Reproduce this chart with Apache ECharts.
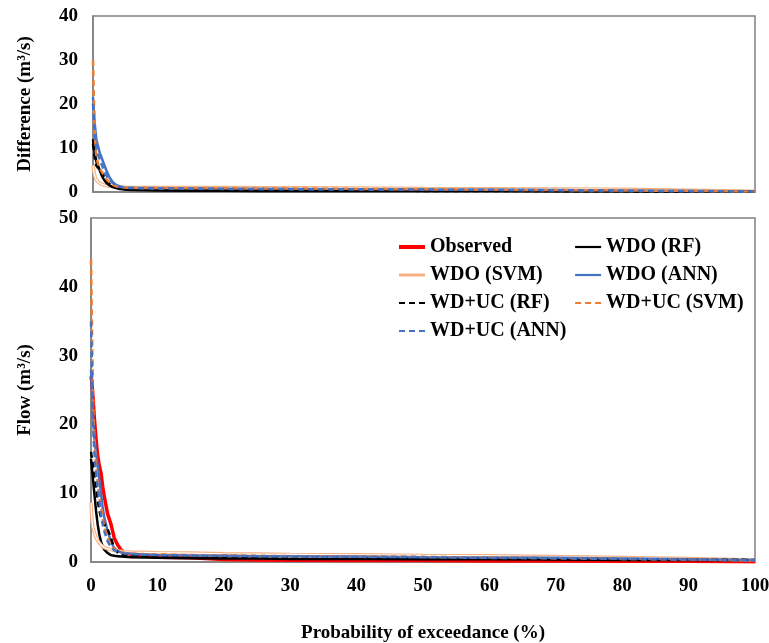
<!DOCTYPE html>
<html><head><meta charset="utf-8">
<script src="https://cdn.jsdelivr.net/npm/echarts@6/dist/echarts.min.js"></script>
<style>html,body{margin:0;padding:0;background:#fff}#c{width:769px;height:643px}</style>
</head><body><div id="c"></div>
<script>
// shared exceedance probabilities (%)
const xProb = [0, 0.15, 0.3, 0.5, 0.75, 1, 1.25, 1.5, 1.75, 2, 2.5, 3, 3.5, 4, 4.5, 5, 6, 8, 10, 15, 20, 25, 30, 40, 50, 60, 70, 80, 90, 100];
const xTicks = [0, 10, 20, 30, 40, 50, 60, 70, 80, 90, 100];

// Flow (m3/s)
const obs     = [27, 26, 24, 21, 18, 15.5, 14, 13, 11, 9.5, 7, 5.5, 3.5, 2.5, 1.8, 1.4, 1.1, 0.9, 0.7, 0.6, 0.35, 0.3, 0.25, 0.2, 0.2, 0.15, 0.15, 0.1, 0.1, 0.05];
const wdoRF   = [15, 13.5, 12, 10, 7.5, 5.5, 4, 3, 2.3, 1.8, 1.3, 1.0, 0.9, 0.85, 0.8, 0.75, 0.7, 0.65, 0.6, 0.55, 0.5, 0.5, 0.45, 0.45, 0.4, 0.4, 0.35, 0.3, 0.3, 0.25];
const wdoSVM  = [8.6, 6, 5, 4.3, 3.6, 3.1, 2.8, 2.5, 2.3, 2.1, 1.9, 1.8, 1.7, 1.6, 1.55, 1.5, 1.45, 1.4, 1.35, 1.3, 1.2, 1.15, 1.1, 1.05, 0.95, 0.9, 0.8, 0.65, 0.5, 0.3];
const wdoANN  = [28, 25, 21, 18, 16, 14, 12, 10, 8, 6.5, 4.5, 3, 2, 1.6, 1.4, 1.3, 1.2, 1.1, 1.0, 0.95, 0.9, 0.85, 0.85, 0.8, 0.7, 0.65, 0.6, 0.5, 0.4, 0.3];
const wducRF  = [16, 15, 14, 12.5, 11, 9, 7.5, 6.5, 6, 5.5, 4.8, 3.5, 2, 1.4, 1.1, 0.95, 0.85, 0.8, 0.75, 0.7, 0.65, 0.6, 0.6, 0.55, 0.5, 0.5, 0.45, 0.4, 0.35, 0.3];
const wducSVM = [44, 34, 24, 18, 14, 11.5, 9.5, 8, 6.5, 5, 3.5, 2.5, 1.9, 1.6, 1.45, 1.35, 1.25, 1.15, 1.1, 1.0, 0.95, 0.9, 0.85, 0.8, 0.75, 0.65, 0.55, 0.45, 0.35, 0.25];
const wducANN = [35, 28, 20, 16, 13, 11, 9, 7, 5.5, 4.5, 3, 2.2, 1.7, 1.5, 1.35, 1.25, 1.15, 1.05, 1.0, 0.95, 0.9, 0.85, 0.8, 0.75, 0.7, 0.6, 0.55, 0.45, 0.35, 0.25];

// Difference (m3/s)
const dWdoRF   = [12, 10, 8.5, 7, 6, 5, 4, 3.2, 2.6, 2.1, 1.5, 1.1, 0.9, 0.7, 0.6, 0.5, 0.45, 0.4, 0.35, 0.3, 0.3, 0.25, 0.25, 0.2, 0.2, 0.2, 0.15, 0.15, 0.1, 0.05];
const dWdoSVM  = [6, 4.5, 3.5, 2.8, 2.3, 2.0, 1.8, 1.6, 1.5, 1.4, 1.3, 1.2, 1.15, 1.1, 1.1, 1.05, 1.05, 1.0, 1.0, 1.0, 1.0, 0.95, 0.95, 0.9, 0.8, 0.75, 0.7, 0.6, 0.4, 0.15];
const dWdoANN  = [21.6, 18, 15, 12, 10.5, 9, 8, 7, 6, 5, 3.3, 2.2, 1.6, 1.3, 1.1, 1.0, 0.95, 0.9, 0.85, 0.8, 0.75, 0.7, 0.7, 0.65, 0.55, 0.5, 0.45, 0.35, 0.25, 0.1];
const dWducRF  = [11, 9, 7.5, 6, 5.5, 5, 4.5, 4, 3.2, 2.5, 1.8, 1.3, 1.0, 0.8, 0.7, 0.6, 0.55, 0.5, 0.45, 0.4, 0.35, 0.35, 0.3, 0.3, 0.25, 0.2, 0.2, 0.15, 0.1, 0.05];
const dWducSVM = [30, 20, 12, 8, 6.5, 5.5, 4.8, 4.2, 3.6, 3.0, 2.2, 1.6, 1.3, 1.15, 1.05, 1.0, 0.95, 0.9, 0.9, 0.85, 0.85, 0.8, 0.8, 0.7, 0.6, 0.5, 0.45, 0.35, 0.25, 0.1];
const dWducANN = [20, 16, 12, 10, 8.5, 7.5, 6.5, 5.5, 4.5, 3.8, 2.8, 2.0, 1.5, 1.2, 1.05, 0.95, 0.9, 0.85, 0.8, 0.75, 0.7, 0.7, 0.65, 0.6, 0.55, 0.5, 0.4, 0.3, 0.2, 0.1];

const names = ['Observed','WDO (RF)','WDO (SVM)','WDO (ANN)','WD+UC (RF)','WD+UC (SVM)','WD+UC (ANN)'];

const pair = arr => xProb.map((x, i) => [x, arr[i]]);
const FONT = '"Liberation Serif", "Times New Roman", serif';
const AX = '#808080';

function mk(name, arr, color, width, dashed, gi) {
  return {
    name: name, type: 'line', xAxisIndex: gi, yAxisIndex: gi,
    data: pair(arr), symbol: 'none', silent: true, animation: false,
    lineStyle: { color: color, width: width, type: dashed ? [6, 4] : 'solid' },
    itemStyle: { color: color }
  };
}

const series = [
  // top: differences
  mk('d1', dWdoSVM, '#F4B183', 3.5, false, 0),
  mk('d1w', dWdoSVM, '#ffffff', 1.2, false, 0),
  mk('d2', dWdoRF, '#000000', 2.5, false, 0),
  mk('d3', dWdoANN, '#4472C4', 2.5, false, 0),
  mk('d4', dWducRF, '#000000', 2.5, true, 0),
  mk('d5', dWducSVM, '#ED7D31', 2.5, true, 0),
  mk('d6', dWducANN, '#4472C4', 2.5, true, 0),
  // bottom: flow
  mk(names[0], obs, '#FF0000', 3.5, false, 1),
  mk(names[1], wdoRF, '#000000', 2.5, false, 1),
  mk(names[2], wdoSVM, '#F4B183', 3.5, false, 1),
  mk('svmw', wdoSVM, '#ffffff', 1.2, false, 1),
  mk(names[3], wdoANN, '#4472C4', 2.5, false, 1),
  mk(names[4], wducRF, '#000000', 2.5, true, 1),
  mk(names[5], wducSVM, '#ED7D31', 2.5, true, 1),
  mk(names[6], wducANN, '#4472C4', 2.5, true, 1)
];

const legendBase = {
  orient: 'vertical', itemWidth: 26, itemHeight: 12, itemGap: 8,
  itemStyle: { opacity: 0 },
  textStyle: { fontFamily: FONT, fontWeight: 'bold', fontSize: 20, color: '#000' },
  selectedMode: false, backgroundColor: 'transparent'
};
const li = (n, w) => ({ name: n, lineStyle: { width: w } });

const chart = echarts.init(document.getElementById('c'), null, { renderer: 'canvas' });
chart.setOption({
  animation: false,
  grid: [
    { left: 93, top: 16, width: 662, height: 176, show: true, borderColor: AX, borderWidth: 1.5, backgroundColor: 'transparent', containLabel: false, outerBoundsMode: 'none' },
    { left: 91, top: 218, width: 664, height: 344, show: true, borderColor: AX, borderWidth: 1.5, backgroundColor: 'transparent', containLabel: false, outerBoundsMode: 'none' }
  ],
  legend: [
    Object.assign({ left: 392, top: 232, data: [li(names[0], 4), li(names[2], 3), li(names[4], 2.2), li(names[6], 2.2)] }, legendBase),
    Object.assign({ left: 569, top: 232, data: [li(names[1], 2.2), li(names[3], 2.2), li(names[5], 2.2)] }, legendBase)
  ],
  xAxis: [
    { type: 'value', gridIndex: 0, min: 0, max: 100, interval: 10, axisLabel: { show: false }, axisTick: { show: false }, splitLine: { show: false }, axisLine: { lineStyle: { color: AX, width: 1.5 } } },
    { type: 'value', gridIndex: 1, min: 0, max: 100, interval: 10, axisTick: { show: false }, splitLine: { show: false },
      axisLine: { lineStyle: { color: AX, width: 1.5 } },
      axisLabel: { fontFamily: FONT, fontWeight: 'bold', fontSize: 19, color: '#000', margin: 15, formatter: v => xTicks.includes(v) ? String(v) : '' },
      name: 'Probability of exceedance (%)', nameLocation: 'middle', nameGap: 62,
      nameTextStyle: { fontFamily: FONT, fontWeight: 'bold', fontSize: 19, color: '#000' } }
  ],
  yAxis: [
    { type: 'value', gridIndex: 0, min: 0, max: 40, interval: 10, axisTick: { show: false }, splitLine: { show: false },
      axisLine: { show: true, lineStyle: { color: AX, width: 1.5 } },
      axisLabel: { fontFamily: FONT, fontWeight: 'bold', fontSize: 19, color: '#000', margin: 15 },
      name: 'Difference (m³/s)', nameLocation: 'middle', nameGap: 58,
      nameTextStyle: { fontFamily: FONT, fontWeight: 'bold', fontSize: 19, color: '#000' } },
    { type: 'value', gridIndex: 1, min: 0, max: 50, interval: 10, axisTick: { show: false }, splitLine: { show: false },
      axisLine: { show: true, lineStyle: { color: AX, width: 1.5 } },
      axisLabel: { fontFamily: FONT, fontWeight: 'bold', fontSize: 19, color: '#000', margin: 13 },
      name: 'Flow (m³/s)', nameLocation: 'middle', nameGap: 56,
      nameTextStyle: { fontFamily: FONT, fontWeight: 'bold', fontSize: 19, color: '#000' } }
  ],
  series: series
});
</script>
</body></html>
